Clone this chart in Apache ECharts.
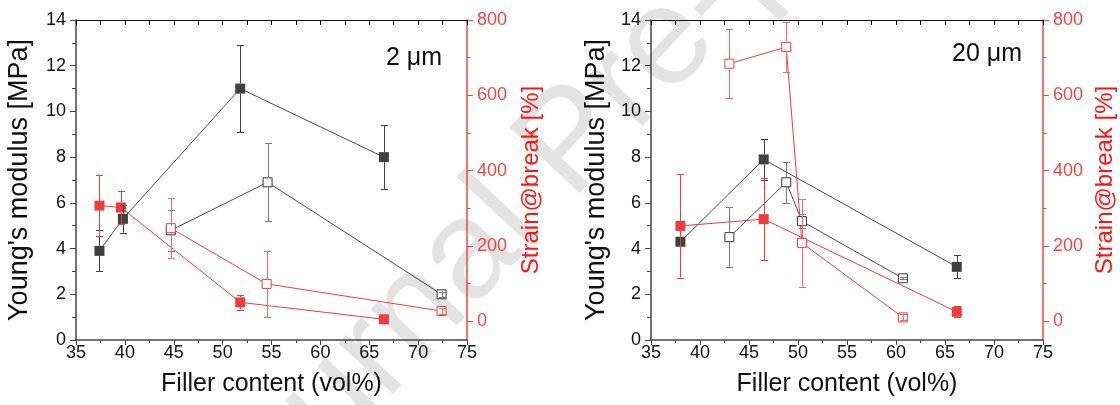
<!DOCTYPE html>
<html>
<head>
<meta charset="utf-8">
<title>Young's modulus and strain at break vs filler content</title>
<script src="https://cdn.jsdelivr.net/npm/echarts@6/dist/echarts.min.js"></script>
<style>
  html, body { margin: 0; padding: 0; background: #fff; }
  #chart { width: 1120px; height: 405px; }
</style>
</head>
<body>
<div id="chart"></div>
<script>
// ---- 2 µm filler ----
const x2ModFilled = [37.4, 39.8, 51.8, 66.5];
const mod2Filled = [3.9, 5.3, 11.0, 8.0];
const mod2FilledErr = [0.9, 0.6, 1.9, 1.4];

const x2ModOpen = [44.7, 54.6, 72.4];
const mod2Open = [4.8, 6.9, 2.0];
const mod2OpenErr = [0.9, 1.7, 0.12];

const x2StrFilled = [37.4, 39.6, 51.8, 66.5];
const str2Filled = [307, 302, 50, 5];
const str2FilledErr = [82, 45, 19, 6];

const x2StrOpen = [44.7, 54.5, 72.4];
const str2Open = [247, 99, 27];
const str2OpenErr = [80, 88, 8];

// ---- 20 µm filler ----
const x20ModFilled = [38.0, 46.5, 66.2];
const mod20Filled = [4.3, 7.9, 3.2];
const mod20FilledErr = [0.1, 0.9, 0.5];

const x20ModOpen = [43.0, 48.8, 50.4, 60.7];
const mod20Open = [4.5, 6.9, 5.2, 2.7];
const mod20OpenErr = [1.3, 0.9, 0.3, 0.05];

const x20StrFilled = [38.0, 46.5, 66.2];
const str20Filled = [253, 271, 25];
const str20FilledErr = [137, 108, 15];

const x20StrOpen = [43.0, 48.8, 50.4, 60.7];
const str20Open = [684, 728, 208, 10];
const str20OpenErr = [92, 67, 116, 8];

// ---- axis ticks ----
const strainTicks = [0, 200, 400, 600, 800];
const strainMinorTicks = [100, 300, 500, 700];
const panelTitles = ['2 \u03bcm', '20 \u03bcm'];

const FONT = '"Liberation Sans", Arial, sans-serif';
const DARK = '#404040';
const DARK_LINE = '#4a4a4a';
const GREY_ERR = '#7a7a7a';
const RED = '#f03b3b';
const RED_LIGHT = '#f26a6a';
const RED_AXIS = '#f24545';

const zip = (xs, ys, es) => xs.map((x, i) => [x, ys[i], es[i]]);

// vertical error bar with caps; the stem is left out inside the marker
function errorBar(color, half) {
  return function (params, api) {
    const x = api.value(0), y = api.value(1), e = api.value(2);
    const c = api.coord([x, y]);
    const hi = api.coord([x, y + e]);
    const lo = api.coord([x, y - e]);
    const px = Math.round(c[0]) + 0.5;
    const cap = 3.5;
    const style = { stroke: color, lineWidth: 1, fill: null };
    const seg = (x1, y1, x2, y2) => ({ type: 'line', shape: { x1, y1, x2, y2 }, style });
    const kids = [];
    const d = c[1] - hi[1];
    if (d > half) {
      kids.push(seg(px, c[1] - half, px, hi[1]));
      kids.push(seg(px, c[1] + half, px, lo[1]));
    } else if (d > 0.5) {
      kids.push(seg(px, hi[1], px, lo[1]));
    }
    if (d > 0.5) {
      const yh = Math.round(hi[1]) + 0.5, yl = Math.round(lo[1]) + 0.5;
      kids.push(seg(px - cap, yh, px + cap, yh));
      kids.push(seg(px - cap, yl, px + cap, yl));
    }
    return { type: 'group', children: kids };
  };
}

function xAxes(grid) {
  const base = {
    gridIndex: grid, type: 'value', min: 35, max: 75, interval: 5,
    splitLine: { show: false },
    minorTick: { show: true, splitNumber: 2, length: 3, lineStyle: { color: '#444' } }
  };
  return [
    Object.assign({}, base, {
      position: 'bottom',
      axisLine: { onZero: false, lineStyle: { color: '#444', width: 1.5 } },
      axisTick: { show: true, inside: false, length: 5, lineStyle: { color: '#444' } },
      axisLabel: { color: '#111', fontFamily: FONT, fontSize: 18, margin: 4 },
      name: 'Filler content (vol%)', nameLocation: 'middle', nameGap: 32,
      nameTextStyle: { color: '#111', fontFamily: FONT, fontSize: 25 }
    }),
    Object.assign({}, base, {
      position: 'top',
      axisLine: { onZero: false, lineStyle: { color: '#111', width: 1 } },
      axisTick: { show: true, inside: true, length: 5, lineStyle: { color: '#111' } },
      minorTick: { show: true, splitNumber: 2, length: 5, lineStyle: { color: '#111' } },
      axisLabel: { show: false }
    })
  ];
}

function yAxes(grid, leftGap, rightGap) {
  return [
    {
      gridIndex: grid, type: 'value', position: 'left', min: 0, max: 14, interval: 2,
      splitLine: { show: false },
      axisLine: { show: true, onZero: false, lineStyle: { color: '#444', width: 1.5 } },
      axisTick: { show: true, inside: false, length: 6, lineStyle: { color: '#444' } },
      minorTick: { show: true, splitNumber: 2, length: 4, lineStyle: { color: '#444' } },
      axisLabel: { color: '#111', fontFamily: FONT, fontSize: 18, margin: 10 },
      name: "Young's modulus [MPa]", nameLocation: 'middle', nameRotate: 90, nameGap: leftGap,
      nameTextStyle: { color: '#111', fontFamily: FONT, fontSize: 27 }
    },
    {
      gridIndex: grid, type: 'value', position: 'right', min: -50, max: 800,
      splitLine: { show: false },
      axisLine: { show: true, onZero: false, lineStyle: { color: RED_AXIS, width: 1.5 } },
      axisTick: { show: true, inside: false, length: 6, customValues: strainTicks, lineStyle: { color: RED_AXIS } },
      axisLabel: { color: RED_AXIS, fontFamily: FONT, fontSize: 18, margin: 10, customValues: strainTicks },
      name: 'Strain@break [%]', nameLocation: 'middle', nameRotate: 90, nameGap: rightGap,
      nameTextStyle: { color: '#ff1414', fontFamily: FONT, fontSize: 24 }
    },
    {
      gridIndex: grid, type: 'value', position: 'right', min: -50, max: 800,
      splitLine: { show: false },
      axisLine: { show: false, onZero: false },
      axisTick: { show: true, inside: false, length: 3.5, customValues: strainMinorTicks, lineStyle: { color: RED_AXIS } },
      axisLabel: { show: false }
    }
  ];
}

function lineSeries(xi, yi, data, filled, color, lineColor) {
  return {
    type: 'line', xAxisIndex: xi, yAxisIndex: yi, data: data.map(d => [d[0], d[1]]),
    symbol: 'rect', symbolSize: filled ? 10 : 9, showSymbol: true,
    lineStyle: { color: lineColor, width: 1 },
    itemStyle: filled ? { color: color, borderWidth: 0 } : { color: '#fff', borderColor: color, borderWidth: 1 },
    z: 2, silent: true, animation: false
  };
}

function errSeries(xi, yi, data, color, half) {
  return {
    type: 'custom', coordinateSystem: 'cartesian2d', xAxisIndex: xi, yAxisIndex: yi,
    data: data, encode: { x: 0, y: 1 }, renderItem: errorBar(color, half),
    z: 3, silent: true, animation: false, clip: false
  };
}

function panel(xi, yMod, yStr, modFilled, modOpen, strFilled, strOpen) {
  return [
    lineSeries(xi, yMod, modFilled, true, DARK, DARK_LINE),
    errSeries(xi, yMod, modFilled, DARK, 5),
    lineSeries(xi, yMod, modOpen, false, '#333', DARK_LINE),
    errSeries(xi, yMod, modOpen, GREY_ERR, 4.5),
    lineSeries(xi, yStr, strFilled, true, RED, RED),
    errSeries(xi, yStr, strFilled, RED, 5),
    lineSeries(xi, yStr, strOpen, false, RED, RED),
    errSeries(xi, yStr, strOpen, RED_LIGHT, 4.5)
  ];
}

const chart = echarts.init(document.getElementById('chart'), null, { renderer: 'canvas' });

chart.setOption({
  animation: false,
  backgroundColor: '#fff',
  grid: [
    { left: 76, top: 20, width: 391, height: 320 },
    { left: 651, top: 20, width: 392, height: 320 }
  ],
  xAxis: [].concat(xAxes(0), xAxes(1)),
  yAxis: [].concat(yAxes(0, 43, 52), yAxes(1, 41, 50)),
  graphic: [
    {
      type: 'text', x: 573, y: 144, rotation: 47 * Math.PI / 180, z: -10, silent: true,
      style: { text: 'Journal Pre-proof', font: '140px ' + FONT, fill: '#e3e3e3', align: 'center', verticalAlign: 'middle' }
    },
    {
      type: 'text', x: 386, y: 58, z: 100, silent: true,
      style: { text: panelTitles[0], font: '25px ' + FONT, fill: '#111', align: 'left', verticalAlign: 'middle' }
    },
    {
      type: 'text', x: 952, y: 54, z: 100, silent: true,
      style: { text: panelTitles[1], font: '25px ' + FONT, fill: '#111', align: 'left', verticalAlign: 'middle' }
    }
  ],
  series: [].concat(
    panel(0, 0, 1,
      zip(x2ModFilled, mod2Filled, mod2FilledErr),
      zip(x2ModOpen, mod2Open, mod2OpenErr),
      zip(x2StrFilled, str2Filled, str2FilledErr),
      zip(x2StrOpen, str2Open, str2OpenErr)),
    panel(2, 3, 4,
      zip(x20ModFilled, mod20Filled, mod20FilledErr),
      zip(x20ModOpen, mod20Open, mod20OpenErr),
      zip(x20StrFilled, str20Filled, str20FilledErr),
      zip(x20StrOpen, str20Open, str20OpenErr))
  )
});
</script>
</body>
</html>
